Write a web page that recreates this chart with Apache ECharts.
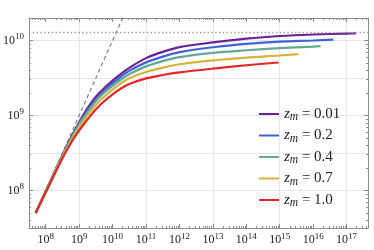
<!DOCTYPE html>
<html><head><meta charset="utf-8">
<script src="https://cdn.jsdelivr.net/npm/echarts@6/dist/echarts.min.js"></script>
<style>html,body{margin:0;padding:0;background:#fff}#c{width:374px;height:250px}</style>
</head><body><div id="c"></div>
<script>
// ---- data ----
const xTickExponents = [8, 9, 10, 11, 12, 13, 14, 15, 16, 17];
const yTickExponents = [8, 9, 10];
const xGridExponents = [9, 11, 13, 15, 17];
const yGridExponents = [8, 8.5, 9, 9.5, 10];
const seriesNames = ['0.01', '0.2', '0.4', '0.7', '1.0'];
const seriesColors = ['#6e2195', '#3e63d6', '#62a996', '#d6b43c', '#e3262b'];

const massX = [5e7, 1e8, 3.16e8, 5.62e8, 1e9, 1.41e9, 2e9, 3.16e9, 5e9, 1e10, 1.78e10, 3.16e10, 1e11, 3.16e11, 1e12, 1e13, 1e14, 1e15, 1e16, 1e17];
const endX = [1.86e17, 4.0e16, 1.66e16, 3.63e15, 9.3e14];

const y_z001 = [5.01e7, 9.77e7, 2.95e8, 5.01e8, 8.13e8, 1.06e9, 1.35e9, 1.78e9, 2.21e9, 2.92e9, 3.59e9, 4.32e9, 5.82e9, 7.05e9, 8.17e9, 9.44e9, 1.059e10, 1.148e10, 1.202e10, 1.236e10, 1.245e10];
const y_z02  = [5.01e7, 9.77e7, 2.92e8, 4.90e8, 7.85e8, 1.0e9, 1.26e9, 1.64e9, 2.04e9, 2.69e9, 3.31e9, 3.94e9, 5.11e9, 6.10e9, 7.0e9, 8.13e9, 9.02e9, 9.66e9, 1.0e10, 1.028e10];
const y_z04  = [5.01e7, 9.66e7, 2.88e8, 4.79e8, 7.59e8, 9.55e8, 1.19e9, 1.55e9, 1.93e9, 2.48e9, 3.02e9, 3.55e9, 4.52e9, 5.31e9, 6.01e9, 6.84e9, 7.41e9, 7.91e9, 8.28e9, 8.39e9];
const y_z07  = [5.01e7, 9.55e7, 2.82e8, 4.57e8, 7.0e8, 8.71e8, 1.07e9, 1.38e9, 1.71e9, 2.21e9, 2.69e9, 3.13e9, 3.80e9, 4.34e9, 4.82e9, 5.43e9, 5.92e9, 6.31e9, 6.58e9];
const y_z10  = [5.01e7, 9.44e7, 2.69e8, 4.27e8, 6.31e8, 7.76e8, 9.44e8, 1.20e9, 1.48e9, 1.91e9, 2.29e9, 2.63e9, 3.13e9, 3.47e9, 3.76e9, 4.22e9, 4.68e9, 5.09e9];

const refX = [5e7, 1e11];
const refY = [5e7, 1e11];
const limitY = 1.28e10;

// ---- chart ----
const ySeries = [y_z001, y_z02, y_z04, y_z07, y_z10];
const XMIN = 7.5, XMAX = 17.64, YMIN = 7.5, YMAX = 10.3;
const FRAME = '#8c8c8c';
const SERIF = 'Liberation Serif';
const L = Math.log10;

function minorList(lo, hi) {
  const out = [];
  for (let n = Math.floor(lo); n <= Math.ceil(hi); n++)
    for (let k = 2; k <= 9; k++) { const v = n + L(k); if (v > lo + 1e-6 && v < hi - 1e-6) out.push(v); }
  return out;
}
function ax(kind, pos, ticks, len, extra) {
  return Object.assign({
    type: 'value', min: kind === 'x' ? XMIN : YMIN, max: kind === 'x' ? XMAX : YMAX, position: pos,
    axisLine: { show: false, onZero: false },
    axisTick: { show: true, inside: true, length: len, customValues: ticks, lineStyle: { color: FRAME, width: 1 } },
    axisLabel: { show: false }, splitLine: { show: false }, silent: true
  }, extra || {});
}
const frameLine = { show: true, onZero: false, lineStyle: { color: FRAME, width: 1 } };
const richTick = {
  b: { fontFamily: SERIF, fontSize: 12, lineHeight: 16, color: '#222' },
  s: { fontFamily: SERIF, fontSize: 9, lineHeight: 6, verticalAlign: 'top', color: '#222' }
};
const fmtPow = v => '{b|10}{s|' + Math.round(v) + '}';

const xMinor = minorList(XMIN, XMAX), yMinor = minorList(YMIN, YMAX);

const xAxes = [
  ax('x', 'bottom', xTickExponents, 4, { axisLine: frameLine,
    axisLabel: { show: true, customValues: xTickExponents, margin: 4, formatter: fmtPow, rich: richTick } }),
  ax('x', 'bottom', xMinor, 2),
  ax('x', 'top', xTickExponents, 4, { axisLine: frameLine }),
  ax('x', 'top', xMinor, 2),
  ax('x', 'bottom', xGridExponents, 0, { axisTick: { show: false, customValues: xGridExponents },
    splitLine: { show: true, lineStyle: { color: '#e6e6e6', width: 1 } } })
];
const yAxes = [
  ax('y', 'left', yTickExponents, 4, { axisLine: frameLine,
    axisLabel: { show: true, customValues: yTickExponents, margin: 5, formatter: fmtPow, rich: richTick } }),
  ax('y', 'left', yMinor, 2),
  ax('y', 'right', yTickExponents, 4, { axisLine: frameLine }),
  ax('y', 'right', yMinor, 2),
  ax('y', 'left', yGridExponents, 0, { axisTick: { show: false, customValues: yGridExponents },
    splitLine: { show: true, lineStyle: { color: '#e6e6e6', width: 1 } } })
];

function buildData(i) {
  const ys = ySeries[i];
  return ys.map((v, j) => [L(j < ys.length - 1 ? massX[j] : endX[i]), L(v)]);
}

const series = [{
  name: 'ref', type: 'line', xAxisIndex: 0, yAxisIndex: 0, silent: true, z: 2,
  data: refX.map((x, j) => [L(x), L(refY[j])]), symbol: 'none', clip: true,
  lineStyle: { color: '#808080', width: 1.2, type: [4, 3] },
  markLine: { silent: true, symbol: 'none', label: { show: false },
    lineStyle: { color: '#9a9a9a', width: 1.4, type: [1.4, 2.4] },
    data: [{ yAxis: L(limitY) }] }
}].concat(seriesNames.map((nm, i) => ({
  name: nm, type: 'line', xAxisIndex: 0, yAxisIndex: 0, data: buildData(i),
  symbol: 'none', showSymbol: false, smooth: 0.3, clip: true, silent: true,
  lineStyle: { color: seriesColors[i], width: 2.2 }, itemStyle: { color: seriesColors[i] }, z: 3 + i
})));

const chart = echarts.init(document.getElementById('c'), null, { renderer: 'canvas' });
chart.setOption({
  animation: false,
  backgroundColor: '#fff',
  grid: { left: 28, right: 6, top: 18, bottom: 22, containLabel: false },
  xAxis: xAxes, yAxis: yAxes,
  legend: {
    orient: 'vertical', left: 259, top: 105, padding: 0, itemWidth: 20, itemHeight: 2, itemGap: 3.5,
    icon: 'rect', selectedMode: false, data: seriesNames,
    formatter: nm => '{z|z}{m|m}{t| = ' + nm + '}',
    textStyle: { fontFamily: SERIF, fontSize: 15, color: '#222', lineHeight: 18,
      rich: {
        z: { fontFamily: SERIF, fontStyle: 'italic', fontSize: 15, lineHeight: 18, color: '#222' },
        m: { fontFamily: SERIF, fontStyle: 'italic', fontSize: 11.5, lineHeight: 12, verticalAlign: 'bottom', color: '#222' },
        t: { fontFamily: SERIF, fontSize: 15, lineHeight: 18, color: '#222' }
      } }
  },
  series: series
});
</script></body></html>
